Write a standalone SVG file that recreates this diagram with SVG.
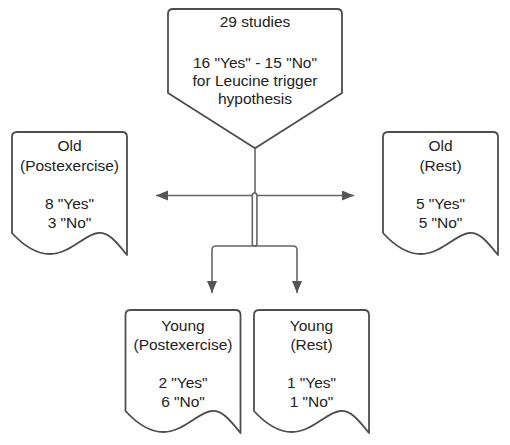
<svg xmlns="http://www.w3.org/2000/svg" width="510" height="445" viewBox="0 0 510 445">
<style>
.shape{fill:#fff;stroke:#4d4d4d;stroke-width:1.8;stroke-linejoin:round}
.conn{fill:none;stroke:#666;stroke-width:1.6}
text{font-family:"Liberation Sans",Arial,sans-serif;font-size:15.5px;fill:#222;text-anchor:middle}
</style>
<defs>
<path id="doc" d="M0,5 Q0,0 5,0 L110,0 Q115,0 115,5 L115,123 C103,108 96,100 86,101 C73,102 58,122 38,122 C23,122 10,112 0,101 Z"/>
<marker id="ah" markerUnits="userSpaceOnUse" markerWidth="13" markerHeight="11" refX="12" refY="5" orient="auto">
<path d="M0,0 L12,5 L0,10 Z" fill="#555"/>
</marker>
</defs>
<g id="connectors">
<line class="conn" x1="255" y1="148" x2="255" y2="193"/>
<rect class="conn" x="252.3" y="193" width="4.6" height="53" rx="2.3"/>
<line class="conn" x1="252" y1="195.5" x2="156" y2="195.5" marker-end="url(#ah)"/>
<line class="conn" x1="257" y1="195.5" x2="354" y2="195.5" marker-end="url(#ah)"/>
<path class="conn" d="M254.6,246 L216,246 Q212,246 212,250 L212,293" marker-end="url(#ah)"/>
<path class="conn" d="M254.6,246 L293,246 Q297,246 297,250 L297,293" marker-end="url(#ah)"/>
</g>
<g id="n-root">
<path class="shape" d="M168,14 Q168,9 173,9 L337,9 Q342,9 342,14 L342,93 L257,147 Q255,148.5 253,147 L168,93 Z"/>
<text x="255" y="26.5">29 studies</text>
<text x="255" y="67.5">16 "Yes" - 15 "No"</text>
<text x="255" y="85.5">for Leucine trigger</text>
<text x="255" y="103.5">hypothesis</text>
</g>
<g id="n-old-post">
<use href="#doc" class="shape" transform="translate(12,132)"/>
<text x="69.5" y="150.5">Old</text>
<text x="69.5" y="170.5">(Postexercise)</text>
<text x="69.5" y="208.5">8 "Yes"</text>
<text x="69.5" y="227.5">3 "No"</text>
</g>
<g id="n-old-rest">
<use href="#doc" class="shape" transform="translate(383,132)"/>
<text x="440.5" y="150.5">Old</text>
<text x="440.5" y="170.5">(Rest)</text>
<text x="440.5" y="208.5">5 "Yes"</text>
<text x="440.5" y="227.5">5 "No"</text>
</g>
<g id="n-young-post">
<use href="#doc" class="shape" transform="translate(125.5,310)"/>
<text x="183" y="330.5">Young</text>
<text x="183" y="349.5">(Postexercise)</text>
<text x="183" y="387.5">2 "Yes"</text>
<text x="183" y="406.5">6 "No"</text>
</g>
<g id="n-young-rest">
<use href="#doc" class="shape" transform="translate(254,310)"/>
<text x="311.5" y="330.5">Young</text>
<text x="311.5" y="349.5">(Rest)</text>
<text x="311.5" y="387.5">1 "Yes"</text>
<text x="311.5" y="406.5">1 "No"</text>
</g>
</svg>
